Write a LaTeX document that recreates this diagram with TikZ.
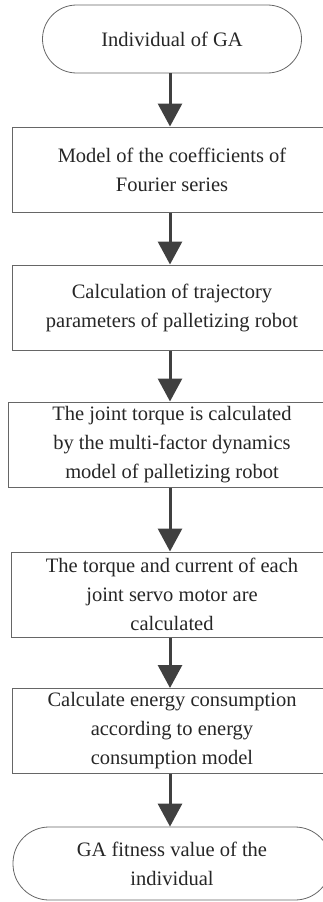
\documentclass[tikz,border=0pt]{standalone}
\usepackage{fontspec}
\setmainfont{Liberation Serif}
\usetikzlibrary{arrows.meta}

\begin{document}
\begin{tikzpicture}[x=1pt,y=1pt,
   every node/.style={text=black!85,align=center,
     font=\fontsize{20.5}{29}\selectfont},
   stepbox/.style={draw=black!60,line width=1pt,inner sep=0pt,
     minimum width=320pt,minimum height=85pt},
   terminal/.style={draw=black!60,line width=.8pt,inner sep=0pt,
     rounded corners=34pt,minimum height=68pt},
   flow/.style={draw=black!75,line width=3pt,
     -{Triangle[width=24pt,length=23pt]}}]
\useasboundingbox (0,0) rectangle (323,-902);
\clip (0,0) rectangle (323,-902);
\node[terminal,minimum width=259pt] (indiv) at (172,-39) {Individual of GA};
\node[stepbox] (coeff) at (172,-169.5)
   {Model of the coefficients of\\Fourier series};
\node[stepbox] (traj) at (172,-307.5)
   {Calculation of trajectory\\parameters of palletizing robot};
\node[stepbox,minimum width=328pt] (torque) at (172,-444.5)
   {The joint torque is calculated\\by the multi-factor dynamics\\model of palletizing robot};
\node[stepbox,minimum width=322pt] (servo) at (172,-594.5)
   {The torque and current of each\\joint servo motor are\\calculated};
\node[stepbox] (energy) at (172,-731)
   {Calculate energy consumption\\according to energy\\consumption model};
\node[terminal,minimum width=318pt,minimum height=73pt,rounded corners=36pt]
   (fit) at (172,-863.5) {GA fitness value of the\\individual};
% arrows down the chain
\foreach \a/\b in {indiv/coeff,coeff/traj,traj/torque,torque/servo,
                   servo/energy,energy/fit}
  \draw[flow] ([xshift=-2pt]\a.south) -- ([xshift=-2pt]\b.north);
\end{tikzpicture}
\end{document}
